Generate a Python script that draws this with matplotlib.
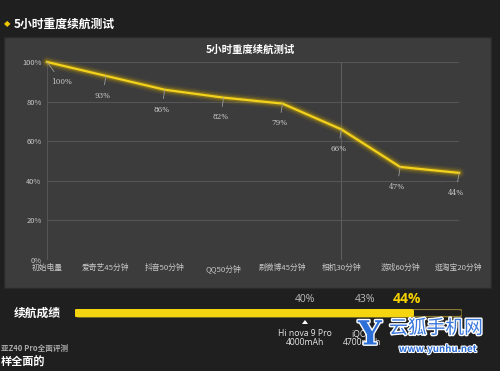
import matplotlib
matplotlib.use("Agg")
import matplotlib.pyplot as plt
from matplotlib.patches import Rectangle, FancyBboxPatch, Polygon
import matplotlib.patheffects as pe

plt.rcParams['font.family'] = ['Noto Sans CJK SC', 'DejaVu Sans']

# ---- data ----
categories = ["初始电量", "爱奇艺45分钟", "抖音50分钟", "QQ50分钟",
              "刷微博45分钟", "相机30分钟", "游戏60分钟", "逛淘宝20分钟"]
battery = [100, 93, 86, 82, 79, 66, 47, 44]
yticks = [0, 20, 40, 60, 80, 100]
ytick_labels = ["0%", "20%", "40%", "60%", "80%", "100%"]

score_labels = ["40%", "43%", "44%"]
score_values = [40, 43, 44]
score_phone = ["Hi nova 9 Pro\n4000mAh", "iQOO\n4700mAh"]
bar_min, bar_max = 31.5, 45.8

W, H = 500, 371
fig = plt.figure(figsize=(5.0, 3.71), dpi=100)
fig.patch.set_facecolor("#1f1f1f")

def fx(px):
    return px / W

def fy(py):
    return 1 - py / H

# panel
fig.patches.append(Rectangle((fx(4), fy(288)), fx(487), (288 - 37) / H,
                             transform=fig.transFigure, facecolor="#3c3c3c",
                             edgecolor="#2a2a2a", lw=1, zorder=-5))

# header
fig.text(fx(7), fy(24), "◆", color="#f0c800", fontsize=6, ha="center", va="center",
         family=['DejaVu Sans'])
fig.text(fx(14), fy(24), "5小时重度续航测试", color="white", fontsize=8.5,
         fontweight="bold", ha="left", va="center")

# chart title
fig.text(fx(250), fy(50), "5小时重度续航测试", color="white", fontsize=7.5,
         fontweight="bold", ha="center", va="center")

# main axes
ax = fig.add_axes([fx(47), fy(260), fx(412), (260 - 62) / H], zorder=2)
ax.set_facecolor("none")
ax.set_xlim(0, len(categories) - 1)
ax.set_ylim(0, 100)
for s in ax.spines.values():
    s.set_visible(False)
ax.set_yticks(yticks)
ax.set_yticklabels(ytick_labels, color="#c8c8c8", fontsize=5.4)
ax.set_xticks(range(len(categories)))
ax.set_xticklabels(categories, color="#c8c8c8", fontsize=5.6)
ax.tick_params(length=0, pad=4)
ax.tick_params(axis="x", pad=3)
for yv in yticks[1:]:
    ax.axhline(yv, color="#555555", lw=0.8, zorder=1)
ax.axvline(0, color="#555555", lw=0.8, zorder=1)
ax.axvline(5, color="#5e5e5e", lw=0.8, zorder=1)

x = list(range(len(battery)))
for lw, a in [(8, 0.08), (5.5, 0.15), (3.5, 0.3)]:
    ax.plot(x, battery, color="#d8b000", lw=lw, alpha=a, solid_capstyle="round",
            clip_on=False, zorder=2)
ax.plot(x, battery, color="#f2d21c", lw=1.6, clip_on=False, zorder=3)

for i, v in enumerate(battery):
    dx = 0.25 if i == 0 else -0.05
    ax.annotate(f"{v}%", xy=(i, v), xytext=(i + dx, v - 10),
                color="#c8c8c8", fontsize=5.2, ha="center", va="center",
                family=['DejaVu Serif'],
                arrowprops=dict(arrowstyle="-", color="#9a9a9a", lw=0.6,
                                shrinkA=3, shrinkB=0),
                annotation_clip=False, zorder=4)

# bottom score bar
fig.text(fx(14), fy(313), "续航成绩", color="white", fontsize=8.5,
         fontweight="bold", ha="left", va="center")
bx = fig.add_axes([fx(75), fy(317.5), fx(387), 9 / H])
bx.set_xlim(bar_min, bar_max)
bx.set_ylim(0, 1)
bx.axis("off")
bx.add_patch(FancyBboxPatch((bar_min, 0.1), bar_max - bar_min, 0.8,
                            boxstyle="round,pad=0,rounding_size=0.15",
                            mutation_aspect=1, facecolor="none",
                            edgecolor="#8a7a30", lw=1))
bx.add_patch(FancyBboxPatch((bar_min, 0.1), score_values[-1] - bar_min, 0.8,
                            boxstyle="round,pad=0,rounding_size=0.15",
                            facecolor="#f5d50f", edgecolor="#f5d50f", lw=1))

label_px = [305, 365, 407]
for lbl, px in zip(score_labels[:2], label_px[:2]):
    fig.text(fx(px), fy(300), lbl, color="#bdbdbd", fontsize=7.5,
             ha="center", va="center", family=['Open Sans', 'DejaVu Sans'])
fig.text(fx(label_px[2]), fy(299), score_labels[2], color="#f5d000", fontsize=10,
         fontweight="bold", ha="center", va="center", family=['Open Sans', 'DejaVu Sans'])

fig.patches.append(Polygon([[fx(302), fy(324)], [fx(308), fy(324)], [fx(305), fy(320)]],
                           closed=True, transform=fig.transFigure,
                           facecolor="white", edgecolor="none"))
fig.text(fx(305), fy(338), score_phone[0], color="#e6e6e6", fontsize=6.2,
         ha="center", va="center", linespacing=1.0,
         family=['Open Sans', 'DejaVu Sans'])
fig.text(fx(362), fy(338), score_phone[1], color="#e6e6e6", fontsize=6.2,
         ha="center", va="center", linespacing=1.0,
         family=['Open Sans', 'DejaVu Sans'])

# bottom-left snippets
fig.text(fx(1), fy(348), "亚Z40 Pro全面评测", color="#a8a8a8", fontsize=5.5,
         fontweight="bold", ha="left", va="center")
fig.text(fx(1), fy(362), "样全面的", color="white", fontsize=8,
         fontweight="bold", ha="left", va="center")

# watermark
stroke = [pe.withStroke(linewidth=2, foreground="white")]
fig.text(fx(370), fy(335), "Y", color="#2d6fd8", fontsize=24, fontweight="bold",
         family=['DejaVu Serif'], ha="center", va="center", path_effects=stroke)
fig.text(fx(436), fy(328), "云狐手机网", color="#3a78dc", fontsize=13.5,
         ha="center", va="center", path_effects=stroke)
fig.text(fx(438), fy(349), "www.yunhu.net", color="#2d6fd8", fontsize=7,
         fontweight="bold", ha="center", va="center",
         path_effects=[pe.withStroke(linewidth=1.5, foreground="white")])

fig.savefig("out.png", dpi=100, facecolor=fig.get_facecolor())
